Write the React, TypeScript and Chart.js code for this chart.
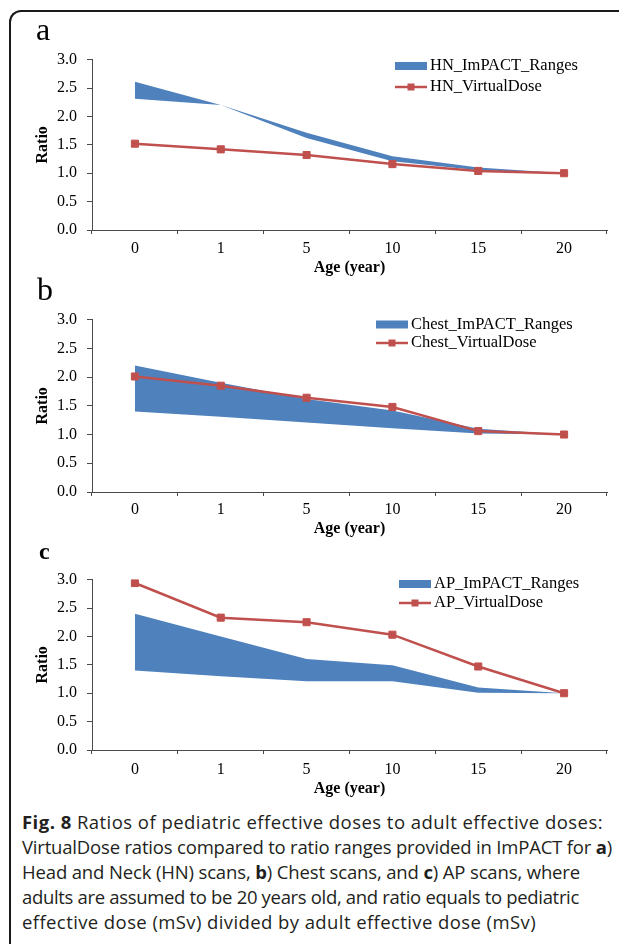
import React, { useEffect, useLayoutEffect, useRef } from 'react';
import { Chart, registerables } from 'chart.js';

Chart.register(...registerables);

const ages = ['0', '1', '5', '10', '15', '20'];
const yMin = 0;
const yMax = 3;
const yStep = 0.5;

const hnUpper = [2.61, 2.2, 1.71, 1.3, 1.1, 1.0];
const hnLower = [2.31, 2.2, 1.62, 1.21, 1.05, 1.0];
const hnVirtual = [1.52, 1.42, 1.32, 1.16, 1.04, 1.0];

const chestUpper = [2.2, 1.9, 1.62, 1.42, 1.1, 1.0];
const chestLower = [1.4, 1.31, 1.21, 1.11, 1.02, 1.0];
const chestVirtual = [2.01, 1.85, 1.64, 1.48, 1.06, 1.0];

const apUpper = [2.4, 2.0, 1.6, 1.49, 1.1, 1.0];
const apLower = [1.4, 1.3, 1.21, 1.21, 1.01, 1.0];
const apVirtual = [2.94, 2.33, 2.25, 2.03, 1.47, 1.0];

const hnLabels = ['HN_ImPACT_Ranges', 'HN_VirtualDose'];
const chestLabels = ['Chest_ImPACT_Ranges', 'Chest_VirtualDose'];
const apLabels = ['AP_ImPACT_Ranges', 'AP_VirtualDose'];

const BLUE = '#4F81BD';
const RED = '#C0504D';
const AXIS = '#4a4a4a';
const SERIF = '"Liberation Serif", "Times New Roman", serif';

const legendPlugin = {
  id: 'posLegend',
  afterDraw(chart: any, _args: any, opts: any) {
    const ctx = chart.ctx;
    const ds = chart.data.datasets;
    const x = opts.x;
    const y1 = opts.y1;
    const y2 = opts.y2;
    ctx.save();
    ctx.fillStyle = BLUE;
    ctx.fillRect(x, y1 - 4, 32, 8);
    ctx.strokeStyle = RED;
    ctx.lineWidth = 2.5;
    ctx.beginPath();
    ctx.moveTo(x, y2);
    ctx.lineTo(x + 32, y2);
    ctx.stroke();
    ctx.fillStyle = RED;
    ctx.fillRect(x + 16 - 3.5, y2 - 3.5, 7, 7);
    ctx.fillStyle = '#000';
    ctx.font = `16.5px ${SERIF}`;
    ctx.textBaseline = 'middle';
    ctx.textAlign = 'left';
    ctx.fillText(ds[0].label, x + 35, y1);
    ctx.fillText(ds[2].label, x + 35, y2);
    ctx.restore();
  },
};

type PanelCfg = {
  upper: number[];
  lower: number[];
  virtual: number[];
  labels: string[];
  top: number;
  padTop: number;
  xHeight: number;
  tickPad: number;
  titlePadBottom: number;
  legend: { x: number; y1: number; y2: number };
};

const panels: PanelCfg[] = [
  {
    upper: hnUpper, lower: hnLower, virtual: hnVirtual, labels: hnLabels,
    top: 40, padTop: 12, xHeight: 55, tickPad: 5, titlePadBottom: 8,
    legend: { x: 375, y1: 26, y2: 47 },
  },
  {
    upper: chestUpper, lower: chestLower, virtual: chestVirtual, labels: chestLabels,
    top: 300, padTop: 12, xHeight: 53, tickPad: 4, titlePadBottom: 7,
    legend: { x: 356, y1: 24.5, y2: 43 },
  },
  {
    upper: apUpper, lower: apLower, virtual: apVirtual, labels: apLabels,
    top: 560, padTop: 12, xHeight: 55, tickPad: 6, titlePadBottom: 7,
    legend: { x: 379, y1: 24, y2: 43 },
  },
];

const CANVAS_W = 600;
const CANVAS_H = 245;

function Panel({ cfg }: { cfg: PanelCfg }) {
  const ref = useRef<HTMLCanvasElement | null>(null);
  useEffect(() => {
    if (!ref.current) return;
    const chart = new Chart(ref.current, {
      type: 'line',
      data: {
        labels: ages,
        datasets: [
          {
            label: cfg.labels[0],
            data: cfg.upper,
            borderWidth: 0,
            borderColor: BLUE,
            backgroundColor: BLUE,
            pointRadius: 0,
            fill: '+1',
            tension: 0,
            order: 2,
          },
          {
            label: cfg.labels[0] + '_low',
            data: cfg.lower,
            borderWidth: 0,
            borderColor: BLUE,
            backgroundColor: BLUE,
            pointRadius: 0,
            fill: false,
            tension: 0,
            order: 3,
          },
          {
            label: cfg.labels[1],
            data: cfg.virtual,
            borderWidth: 2.5,
            borderColor: RED,
            backgroundColor: RED,
            pointStyle: 'rect',
            pointRadius: 5,
            pointBorderWidth: 1,
            pointBackgroundColor: RED,
            pointBorderColor: RED,
            fill: false,
            tension: 0,
            order: 1,
          },
        ],
      },
      options: {
        animation: false,
        responsive: false,
        devicePixelRatio: 1,
        layout: { padding: { top: cfg.padTop, right: 13, left: 0, bottom: 0 } },
        plugins: {
          legend: { display: false },
          tooltip: { enabled: false },
          posLegend: cfg.legend,
        } as any,
        scales: {
          x: {
            type: 'category',
            offset: true,
            afterFit: (s: any) => { s.height = cfg.xHeight; },
            grid: {
              display: true,
              offset: true,
              drawOnChartArea: false,
              drawTicks: true,
              tickLength: 4,
              tickColor: AXIS,
              color: AXIS,
            },
            border: { display: true, color: AXIS, width: 1 },
            ticks: {
              color: '#000',
              padding: cfg.tickPad,
              font: { family: SERIF, size: 16 },
              maxRotation: 0,
              autoSkip: false,
            },
            title: {
              display: true,
              text: 'Age (year)',
              color: '#000',
              font: { family: SERIF, size: 16, weight: 'bold' },
              padding: { top: 0, bottom: cfg.titlePadBottom },
            },
          },
          y: {
            min: yMin,
            max: yMax,
            afterFit: (s: any) => { s.width = 72; },
            grid: {
              display: true,
              drawOnChartArea: false,
              drawTicks: true,
              tickLength: 5,
              tickColor: AXIS,
              color: AXIS,
            },
            border: { display: true, color: AXIS, width: 1 },
            ticks: {
              stepSize: yStep,
              color: '#000',
              padding: 10,
              font: { family: SERIF, size: 16 },
              callback: (v: any) => Number(v).toFixed(1),
            },
            title: {
              display: true,
              text: 'Ratio',
              color: '#000',
              font: { family: SERIF, size: 16, weight: 'bold' },
              padding: { top: 13, bottom: 0 },
            },
          },
        },
      } as any,
      plugins: [legendPlugin as any],
    });
    return () => chart.destroy();
  }, [cfg]);
  return (
    <canvas
      ref={ref}
      width={CANVAS_W}
      height={CANVAS_H}
      style={{
        position: 'absolute',
        left: 12,
        top: cfg.top - 8,
        width: CANVAS_W,
        height: CANVAS_H,
      }}
    />
  );
}

const letterStyle: React.CSSProperties = {
  position: 'absolute',
  fontFamily: SERIF,
  lineHeight: 1,
  color: '#000',
};

// caption lines: target widths (px) of each line in the reference
const captionWidths = [581, 590, 558, 557, 514];

function CaptionLine({ width, children }: { width: number; children: React.ReactNode }) {
  const ref = useRef<HTMLSpanElement | null>(null);
  useLayoutEffect(() => {
    const el = ref.current;
    if (!el) return;
    el.style.letterSpacing = '0px';
    const w = el.getBoundingClientRect().width;
    const n = (el.textContent || '').length;
    if (n > 1) el.style.letterSpacing = `${(width - w) / n}px`;
  }, [width]);
  return (
    <div style={{ height: 25 }}>
      <span ref={ref} style={{ display: 'inline-block', whiteSpace: 'nowrap' }}>
        {children}
      </span>
    </div>
  );
}

export default function App() {
  return (
    <div style={{ position: 'relative', width: 619, height: 936, overflow: 'hidden' }}>
      <div
        style={{
          position: 'absolute',
          left: 1,
          top: 2,
          width: 640,
          height: 960,
          borderTop: '2px solid #1a1a1a',
          borderLeft: '2px solid #1a1a1a',
          borderTopLeftRadius: 12,
          boxSizing: 'border-box',
        }}
      />
      {panels.map((p, i) => (
        <Panel key={i} cfg={p} />
      ))}
      <div style={{ ...letterStyle, left: 28, top: 5, fontSize: 32 }}>a</div>
      <div style={{ ...letterStyle, left: 29, top: 265, fontSize: 32 }}>b</div>
      <div style={{ ...letterStyle, left: 31, top: 531, fontSize: 24, fontWeight: 'bold' }}>c</div>
      <div
        style={{
          position: 'absolute',
          left: 14,
          top: 801,
          width: 610,
          fontFamily: '"Open Sans", sans-serif',
          fontSize: 18.5,
          lineHeight: '25px',
          color: '#231f20',
        }}
      >
        <CaptionLine width={captionWidths[0]}>
          <b>Fig. 8</b> Ratios of pediatric effective doses to adult effective doses:
        </CaptionLine>
        <CaptionLine width={captionWidths[1]}>
          VirtualDose ratios compared to ratio ranges provided in ImPACT for <b>a</b>)
        </CaptionLine>
        <CaptionLine width={captionWidths[2]}>
          Head and Neck (HN) scans, <b>b</b>) Chest scans, and <b>c</b>) AP scans, where
        </CaptionLine>
        <CaptionLine width={captionWidths[3]}>
          adults are assumed to be 20 years old, and ratio equals to pediatric
        </CaptionLine>
        <CaptionLine width={captionWidths[4]}>
          effective dose (mSv) divided by adult effective dose (mSv)
        </CaptionLine>
      </div>
    </div>
  );
}
